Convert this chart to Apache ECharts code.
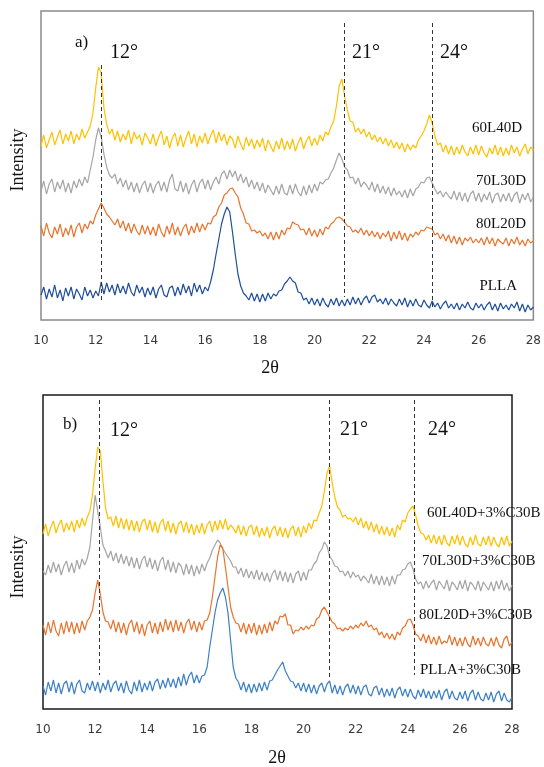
<!DOCTYPE html>
<html>
<head>
<meta charset="utf-8">
<script src="https://cdn.jsdelivr.net/npm/echarts@6/dist/echarts.min.js"></script>
<style>html,body{margin:0;padding:0;background:#fff;}#chart{width:544px;height:767px;}</style>
</head>
<body>
<div id="chart"></div>
<script>
// 2θ grid: 10.0 .. 28.0, step 0.1
const thetaStart = 10, thetaStep = 0.1, thetaCount = 181;
const xTicks = [10, 12, 14, 16, 18, 20, 22, 24, 26, 28];

// ---- Panel a) (intensity, arbitrary offset units) ----
const a_60L40D = [
174,185,172,180,188,175,183,190,176,186,
179,189,176,186,180,191,182,188,194,207,
232,253,247,212,196,186,191,180,189,178,
186,180,190,176,188,181,185,175,187,182,
176,186,174,183,189,175,184,172,182,187,
174,185,173,182,189,176,186,173,184,177,
187,176,184,190,177,188,179,186,175,184,
181,172,184,176,170,183,174,181,171,180,
173,182,169,180,174,168,179,171,182,170,
179,171,181,169,177,183,171,179,184,174,
182,175,185,179,188,185,193,199,214,234,
241,224,210,199,198,188,192,186,191,183,
188,180,185,178,183,176,182,174,180,172,
178,171,177,168,176,170,175,172,180,184,
189,196,205,197,184,175,177,168,175,166,
174,165,173,166,175,168,164,173,166,175,
165,174,167,163,172,166,175,165,173,164,
172,165,175,167,173,164,171,176,166,173,
170];
const a_70L30D = [
129,139,126,136,141,128,138,131,140,128,
137,127,139,132,141,134,143,137,150,163,
180,192,183,166,153,145,142,146,136,142,
133,140,130,138,128,137,127,135,139,128,
137,127,135,139,129,138,128,140,146,131,
129,139,128,137,126,135,140,128,137,141,
131,140,130,138,143,136,146,149,141,150,
143,149,139,146,137,143,133,140,131,138,
129,137,127,135,130,125,134,126,136,127,
125,135,126,136,128,124,134,125,135,127,
136,129,138,136,140,141,147,152,160,167,
161,153,150,142,143,136,142,133,138,135,
130,138,128,136,127,134,126,133,124,132,
125,129,123,130,122,131,124,131,133,138,
137,142,143,137,131,126,129,123,128,124,
121,129,120,128,119,127,118,126,129,119,
127,118,126,120,128,117,125,127,118,126,
119,127,118,125,128,117,126,120,127,118,
123];
const a_80L20D = [
94,84,97,87,82,93,86,96,83,92,
85,95,83,93,97,87,96,91,99,96,
105,111,117,112,106,103,99,95,101,92,
99,89,97,87,96,89,85,95,86,94,
85,93,84,96,88,83,94,86,97,85,
93,84,92,96,85,94,87,97,88,96,
90,97,96,103,105,113,117,125,127,131,
132,127,123,112,106,97,96,89,90,87,
89,84,87,81,88,80,88,81,90,85,
92,91,98,96,95,90,91,85,92,84,
90,83,91,85,93,91,96,98,102,103,
101,98,94,93,88,90,87,92,85,90,
84,89,83,88,81,87,83,89,79,88,
81,89,80,87,79,86,83,88,85,90,
89,93,92,91,85,87,81,86,79,85,
77,84,76,83,75,82,79,83,77,81,
77,82,75,83,76,82,74,81,78,76,
82,74,81,76,83,75,80,74,81,77,
79];
const a_PLLA = [
25,33,21,31,23,35,22,30,19,32,
24,33,21,31,26,20,33,24,30,22,
29,24,38,26,37,28,35,25,36,27,
34,26,37,28,24,35,27,33,23,32,
25,33,22,31,35,25,23,32,34,24,
33,25,36,27,34,24,37,28,35,26,
33,29,38,50,66,81,96,106,113,108,
88,66,46,34,27,24,20,27,19,26,
18,26,19,27,21,26,24,29,30,36,
39,43,39,37,28,27,20,22,16,22,
15,21,14,22,16,13,21,15,22,14,
20,14,21,15,23,16,22,15,21,24,
17,23,25,18,21,16,22,15,21,17,
14,21,15,22,13,20,14,21,15,13,
20,15,12,19,13,17,11,16,19,12,
16,11,17,10,16,12,18,12,10,17,
12,16,10,15,18,10,16,9,17,11,
15,10,16,12,18,9,16,8,15,10,
13];

// ---- Panel b) ----
const b_60L40D = [
175,185,173,182,188,176,184,189,177,186,
179,188,177,189,181,191,183,192,198,214,
240,262,258,228,201,190,192,183,193,181,
191,180,190,179,189,178,188,177,187,190,
179,189,177,187,176,186,190,178,188,176,
186,175,185,188,177,187,176,185,174,184,
176,186,175,184,188,177,188,179,189,180,
190,179,184,181,176,184,174,183,173,182,
184,174,183,172,181,173,182,171,180,183,
173,182,172,181,171,180,183,173,182,172,
183,176,186,180,189,188,196,203,218,236,
243,226,212,202,199,192,194,190,191,187,
192,184,191,181,188,179,187,177,185,175,
183,174,182,173,181,172,184,179,189,187,
196,200,203,194,183,176,175,169,174,166,
174,165,173,164,174,166,163,173,165,174,
164,173,165,162,172,164,174,165,163,172,
164,173,163,172,165,162,172,164,173,163,
168];
const b_70L30D = [
138,134,144,136,147,137,145,134,143,148,
137,146,136,149,140,150,144,151,162,188,
214,198,182,164,158,151,158,148,156,146,
155,145,153,143,152,141,151,140,149,153,
142,151,140,149,138,148,152,139,149,137,
147,136,146,143,134,145,135,144,133,143,
135,145,138,146,151,159,164,169,166,160,
156,152,148,142,142,135,141,132,140,131,
138,130,139,129,137,128,136,127,135,139,
129,138,128,137,127,136,126,135,138,128,
137,129,139,139,145,148,156,160,167,163,
153,149,143,142,137,138,133,138,131,137,
132,134,128,133,130,126,135,125,133,124,
133,124,132,123,133,125,134,134,139,140,
145,147,140,130,125,127,120,128,121,126,
129,119,128,124,120,129,118,127,124,119,
128,120,129,118,127,124,119,128,118,127,
123,119,127,118,128,120,129,119,126,118,
124];
const b_80L20D = [
84,74,87,76,89,78,73,86,75,88,
77,87,75,86,76,88,79,88,92,99,
116,129,115,97,88,87,80,89,77,87,
76,86,74,85,89,77,87,75,85,73,
84,88,76,86,75,87,77,90,79,88,
77,89,78,87,76,86,90,79,88,77,
87,79,88,89,96,112,132,152,164,161,
142,122,102,92,86,85,77,86,75,85,
76,86,74,84,75,85,76,87,78,88,
85,93,92,95,84,84,75,79,78,82,
79,83,80,84,83,90,92,99,102,97,
92,87,85,80,81,78,81,79,83,80,
84,81,86,83,88,82,84,79,81,74,
77,71,76,70,75,69,77,74,81,83,
89,90,84,75,73,68,75,66,74,65,
72,64,73,65,68,66,74,64,72,63,
71,63,72,65,62,73,64,71,63,72,
65,63,71,63,72,64,61,70,73,63,
67];
const b_PLLA = [
23,14,27,18,29,16,26,15,25,28,
17,27,15,25,29,18,16,26,19,28,
18,27,16,26,19,29,17,25,28,18,
26,16,28,19,15,27,18,29,17,26,
19,28,18,27,30,20,29,21,31,22,
30,21,32,23,35,24,33,37,26,34,
26,33,34,42,62,79,96,109,116,121,
112,96,69,42,31,27,19,27,17,25,
16,25,17,26,18,27,19,28,29,34,
39,43,47,38,33,28,27,21,26,18,
26,17,25,16,24,15,23,26,17,25,
28,16,24,15,23,14,22,25,16,24,
15,23,14,22,24,15,13,21,23,14,
21,12,20,13,21,11,19,22,13,20,
12,20,13,10,19,12,20,11,18,10,
18,11,19,9,17,20,10,18,11,9,
17,10,18,8,16,19,9,17,10,8,
16,9,17,7,15,18,8,16,9,7,
12];

// reference angle lines: [angle, top, bottom] in intensity units
const refLinesA = [[12.2, 255, 18], [21.1, 297, 23], [24.3, 297, 10]];
const refLinesB = [[12.15, 309, 34], [21.0, 309, 32], [24.25, 309, 34]];

const namesA = ['60L40D', '70L30D', '80L20D', 'PLLA'];
const namesB = ['60L40D+3%C30B', '70L30D+3%C30B', '80L20D+3%C30B', 'PLLA+3%C30B'];

const twoTheta = Array.from({length: thetaCount}, (_, i) => Math.round((thetaStart + i * thetaStep) * 100) / 100);
const pairs = arr => arr.map((v, i) => [twoTheta[i], v]);

const colorsA = ['#FFC000', '#A5A5A5', '#E8742D', '#1F4E9A'];
const colorsB = ['#FFC000', '#A5A5A5', '#E8742D', '#3C80C6'];
const dataA = [a_60L40D, a_70L30D, a_80L20D, a_PLLA];
const dataB = [b_60L40D, b_70L30D, b_80L20D, b_PLLA];

const serif = 'Liberation Serif, Times New Roman, serif';
const sans = 'DejaVu Sans, Arial, sans-serif';

function xAxisCfg(gi) {
  return {
    gridIndex: gi, type: 'value', min: 10, max: 28, interval: 2,
    axisLine: {show: false}, axisTick: {show: false}, splitLine: {show: false},
    axisLabel: {fontSize: 12, color: '#3a3a3a', margin: 15, fontFamily: sans}
  };
}
function yAxisCfg(gi, max) {
  return {gridIndex: gi, type: 'value', min: 0, max: max, show: false,
    splitLine: {show: false}};
}
function mkSeries(datas, colors, names, gi, refs) {
  const s = datas.map((d, k) => ({
    type: 'line', name: names[k], xAxisIndex: gi, yAxisIndex: gi,
    data: pairs(d), showSymbol: false, symbol: 'none', z: 3,
    lineStyle: {color: colors[k], width: 1.2}, silent: true
  }));
  s.push({
    type: 'line', xAxisIndex: gi, yAxisIndex: gi, data: [], silent: true, z: 5,
    markLine: {
      symbol: 'none', silent: true, label: {show: false},
      lineStyle: {color: '#333', type: [4, 3], width: 1},
      data: refs.map(r => [{coord: [r[0], r[1]]}, {coord: [r[0], r[2]]}])
    }
  });
  return s;
}
function txt(x, y, text, size, opts) {
  return Object.assign({
    type: 'text', x: x, y: y, silent: true,
    style: Object.assign({text: text, fontSize: size, fontFamily: serif, fill: '#111',
      textAlign: 'left', textVerticalAlign: 'middle'}, (opts && opts.style) || {})
  }, (opts && opts.el) || {});
}

const chart = echarts.init(document.getElementById('chart'), null, {renderer: 'canvas'});
chart.setOption({
  animation: false,
  backgroundColor: '#fff',
  grid: [
    {left: 41, top: 11, width: 494, height: 309, show: true, borderColor: '#8a8a8a', borderWidth: 1.5, backgroundColor: 'transparent'},
    {left: 43, top: 395, width: 469, height: 314, show: true, borderColor: '#1a1a1a', borderWidth: 1.5, backgroundColor: 'transparent'}
  ],
  xAxis: [xAxisCfg(0), xAxisCfg(1)],
  yAxis: [yAxisCfg(0, 309), yAxisCfg(1, 314)],
  series: [].concat(mkSeries(dataA, colorsA, namesA, 0, refLinesA), mkSeries(dataB, colorsB, namesB, 1, refLinesB)),
  graphic: [
    txt(75, 43, 'a)', 17),
    txt(110, 53, '12°', 20), txt(352, 53, '21°', 20), txt(440, 53, '24°', 20),
    txt(18, 160, 'Intensity', 18, {style: {textAlign: 'center'}, el: {rotation: Math.PI / 2}}),
    txt(270, 368, '2θ', 18, {style: {textAlign: 'center'}}),
    txt(522, 128, namesA[0], 15, {style: {textAlign: 'right'}}),
    txt(526, 181, namesA[1], 15, {style: {textAlign: 'right'}}),
    txt(526, 224, namesA[2], 15, {style: {textAlign: 'right'}}),
    txt(517, 286, namesA[3], 15, {style: {textAlign: 'right'}}),

    txt(63, 425, 'b)', 17),
    txt(110, 431, '12°', 20), txt(340, 430, '21°', 20), txt(428, 430, '24°', 20),
    txt(18, 567, 'Intensity', 18, {style: {textAlign: 'center'}, el: {rotation: Math.PI / 2}}),
    txt(277, 758, '2θ', 18, {style: {textAlign: 'center'}}),
    txt(427, 513, namesB[0], 15),
    txt(422, 561, namesB[1], 15),
    txt(419, 615, namesB[2], 15),
    txt(420, 670, namesB[3], 15)
  ]
});
</script>
</body>
</html>
